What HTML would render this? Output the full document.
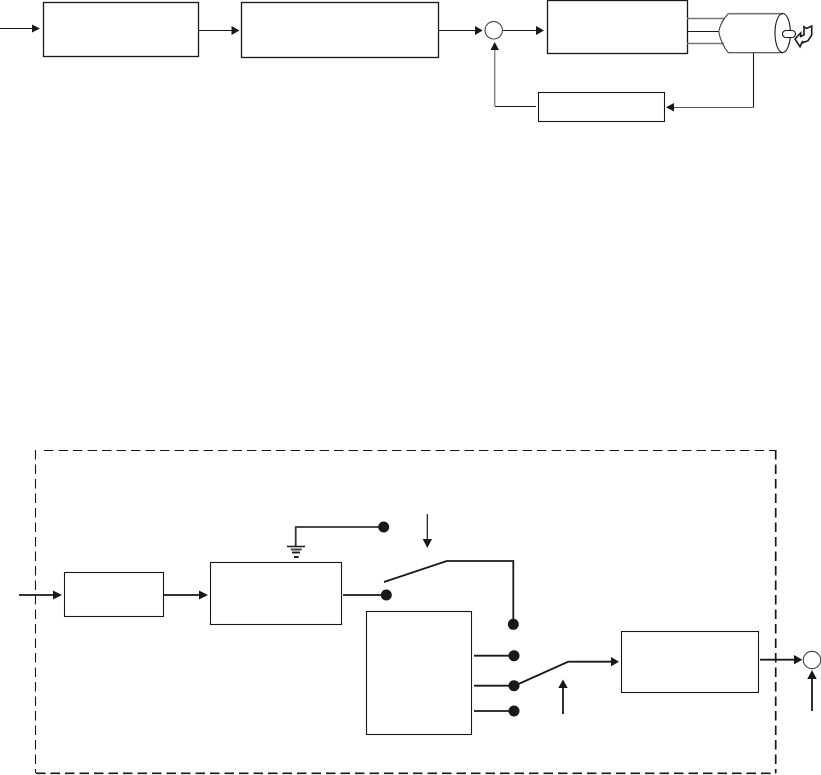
<!DOCTYPE html>
<html lang="en">
<head>
<meta charset="utf-8">
<title>Block diagram</title>
<style>
html,body{margin:0;padding:0;background:#fff;width:821px;height:775px;overflow:hidden}
svg{display:block}
</style>
</head>
<body>
<svg width="821" height="775" viewBox="0 0 821 775" xmlns="http://www.w3.org/2000/svg">
<g fill="none" stroke="#1a1718" stroke-width="1.1">
  <!-- top boxes -->
  <rect x="43.5" y="2.5" width="155" height="54" stroke-width="1.3"/>
  <rect x="241.5" y="2.5" width="197" height="55" stroke-width="1.3"/>
  <rect x="547.5" y="0.5" width="140" height="53" stroke-width="1.3"/>
  <rect x="538.5" y="92.5" width="126" height="29"/>
  <circle cx="493.7" cy="30.3" r="8.7" stroke="#444"/>
  <!-- top lines -->
  <path d="M0 28.5H34M198 30.5H233M438 30.5H477M503 30.5H538"/>
  <path d="M536 106.5H495" />
  <path d="M494.7 106.5V48" stroke="#888" stroke-width="1.5"/>
  <path d="M672 107.5H753.5" stroke="#555"/>
  <path d="M753.5 107.5V53"/>
  <!-- motor -->
  <path d="M687 18.5H724M687 43.5H724" stroke="#777" stroke-width="1.6"/>
  <path d="M687 31.5H719"/>
  <path d="M728.3 13.7H783" stroke="#777" stroke-width="1.6"/>
  <path d="M728.3 13.7Q721 21 718.7 31.5Q721 44 728.3 52.7H783" stroke="#444"/>
  <ellipse cx="782.7" cy="33" rx="7.7" ry="19.5"/>
  <rect x="782.5" y="30.5" width="13" height="7" rx="3.5" fill="#fff"/>
  <path d="M795 39L800.7 33V36.5L804 35V26.7L806.7 28.5L811.7 26V35L808 40.7L802.7 42.7V41L800 46.7Z" stroke-width="1.6" fill="#fff"/>
  <!-- dashed frame -->
  <path d="M44 450.5H776" stroke-dasharray="9.5 5"/>
  <path d="M35.5 450V773" stroke-dasharray="9.5 5"/>
  <path d="M775.7 450V773" stroke-width="1.7" stroke-dasharray="9.5 5"/>
  <path d="M36 773.3H776" stroke-width="1.7" stroke-dasharray="9.5 5"/>
  <!-- bottom boxes -->
  <rect x="64.5" y="572.5" width="99" height="44"/>
  <rect x="210.5" y="562.5" width="131" height="62"/>
  <rect x="366.5" y="611.5" width="105" height="123"/>
  <rect x="621.5" y="631.5" width="137" height="61"/>
  <circle cx="812" cy="660" r="8.7" stroke="#444"/>
  <!-- bottom lines -->
  <g stroke-width="1.8">
    <path d="M19 595H54M164 595H200"/>
    <path d="M343 595H386"/>
    <path d="M295.7 546V527H383" stroke="#333"/>
    <path d="M384 582L446.7 561H513.3V624" />
    <path d="M474 655.7H514M474 685.7H514M474 711H514"/>
    <path d="M514 686L568.3 661.7H612"/>
    <path d="M760 659.7H795"/>
    <path d="M812 711V678"/>
    <path d="M563 714V687"/>
  </g>
  <path d="M427.3 514V540" stroke-width="1.2"/>
  <!-- ground -->
  <path d="M287 546.5H305" stroke-width="1.6"/>
  <path d="M290.7 549.5H301.7" stroke="#444" stroke-width="2"/>
  <path d="M292 552.5H300" stroke-width="1.8"/>
  <path d="M294 557H298.5" stroke-width="2"/>
</g>
<g fill="#1a1718" stroke="none">
  <!-- top arrowheads -->
  <path d="M32 24.5L40 28.5L32 32.5Z"/>
  <path d="M231.5 26L239.5 30.5L231.5 35Z"/>
  <path d="M475 26L482.7 30.5L475 35Z"/>
  <path d="M536 26L544 30.5L536 35Z"/>
  <path d="M490.5 50L494.7 42L499 50Z"/>
  <path d="M674 103L666 107.3L674 111.5Z"/>
  <!-- bottom arrowheads -->
  <path d="M53 590.5L62 595L53 599.5Z"/>
  <path d="M199 590.5L208 595L199 599.5Z"/>
  <path d="M422.7 539H432L427.3 548Z"/>
  <path d="M611 657L619 661.7L611 666.4Z"/>
  <path d="M794 655L802.3 659.7L794 664.4Z"/>
  <path d="M807.3 679L812 670L816.7 679Z"/>
  <path d="M558.3 688L563 679.5L567.7 688Z"/>
  <!-- dots -->
  <circle cx="383.7" cy="527" r="5.5"/>
  <circle cx="386.3" cy="595" r="5.5"/>
  <circle cx="513.3" cy="624.3" r="5.5"/>
  <circle cx="514" cy="655.7" r="5.5"/>
  <circle cx="514" cy="685.7" r="5.5"/>
  <circle cx="514" cy="711" r="5.5"/>
</g>
</svg>
</body>
</html>
